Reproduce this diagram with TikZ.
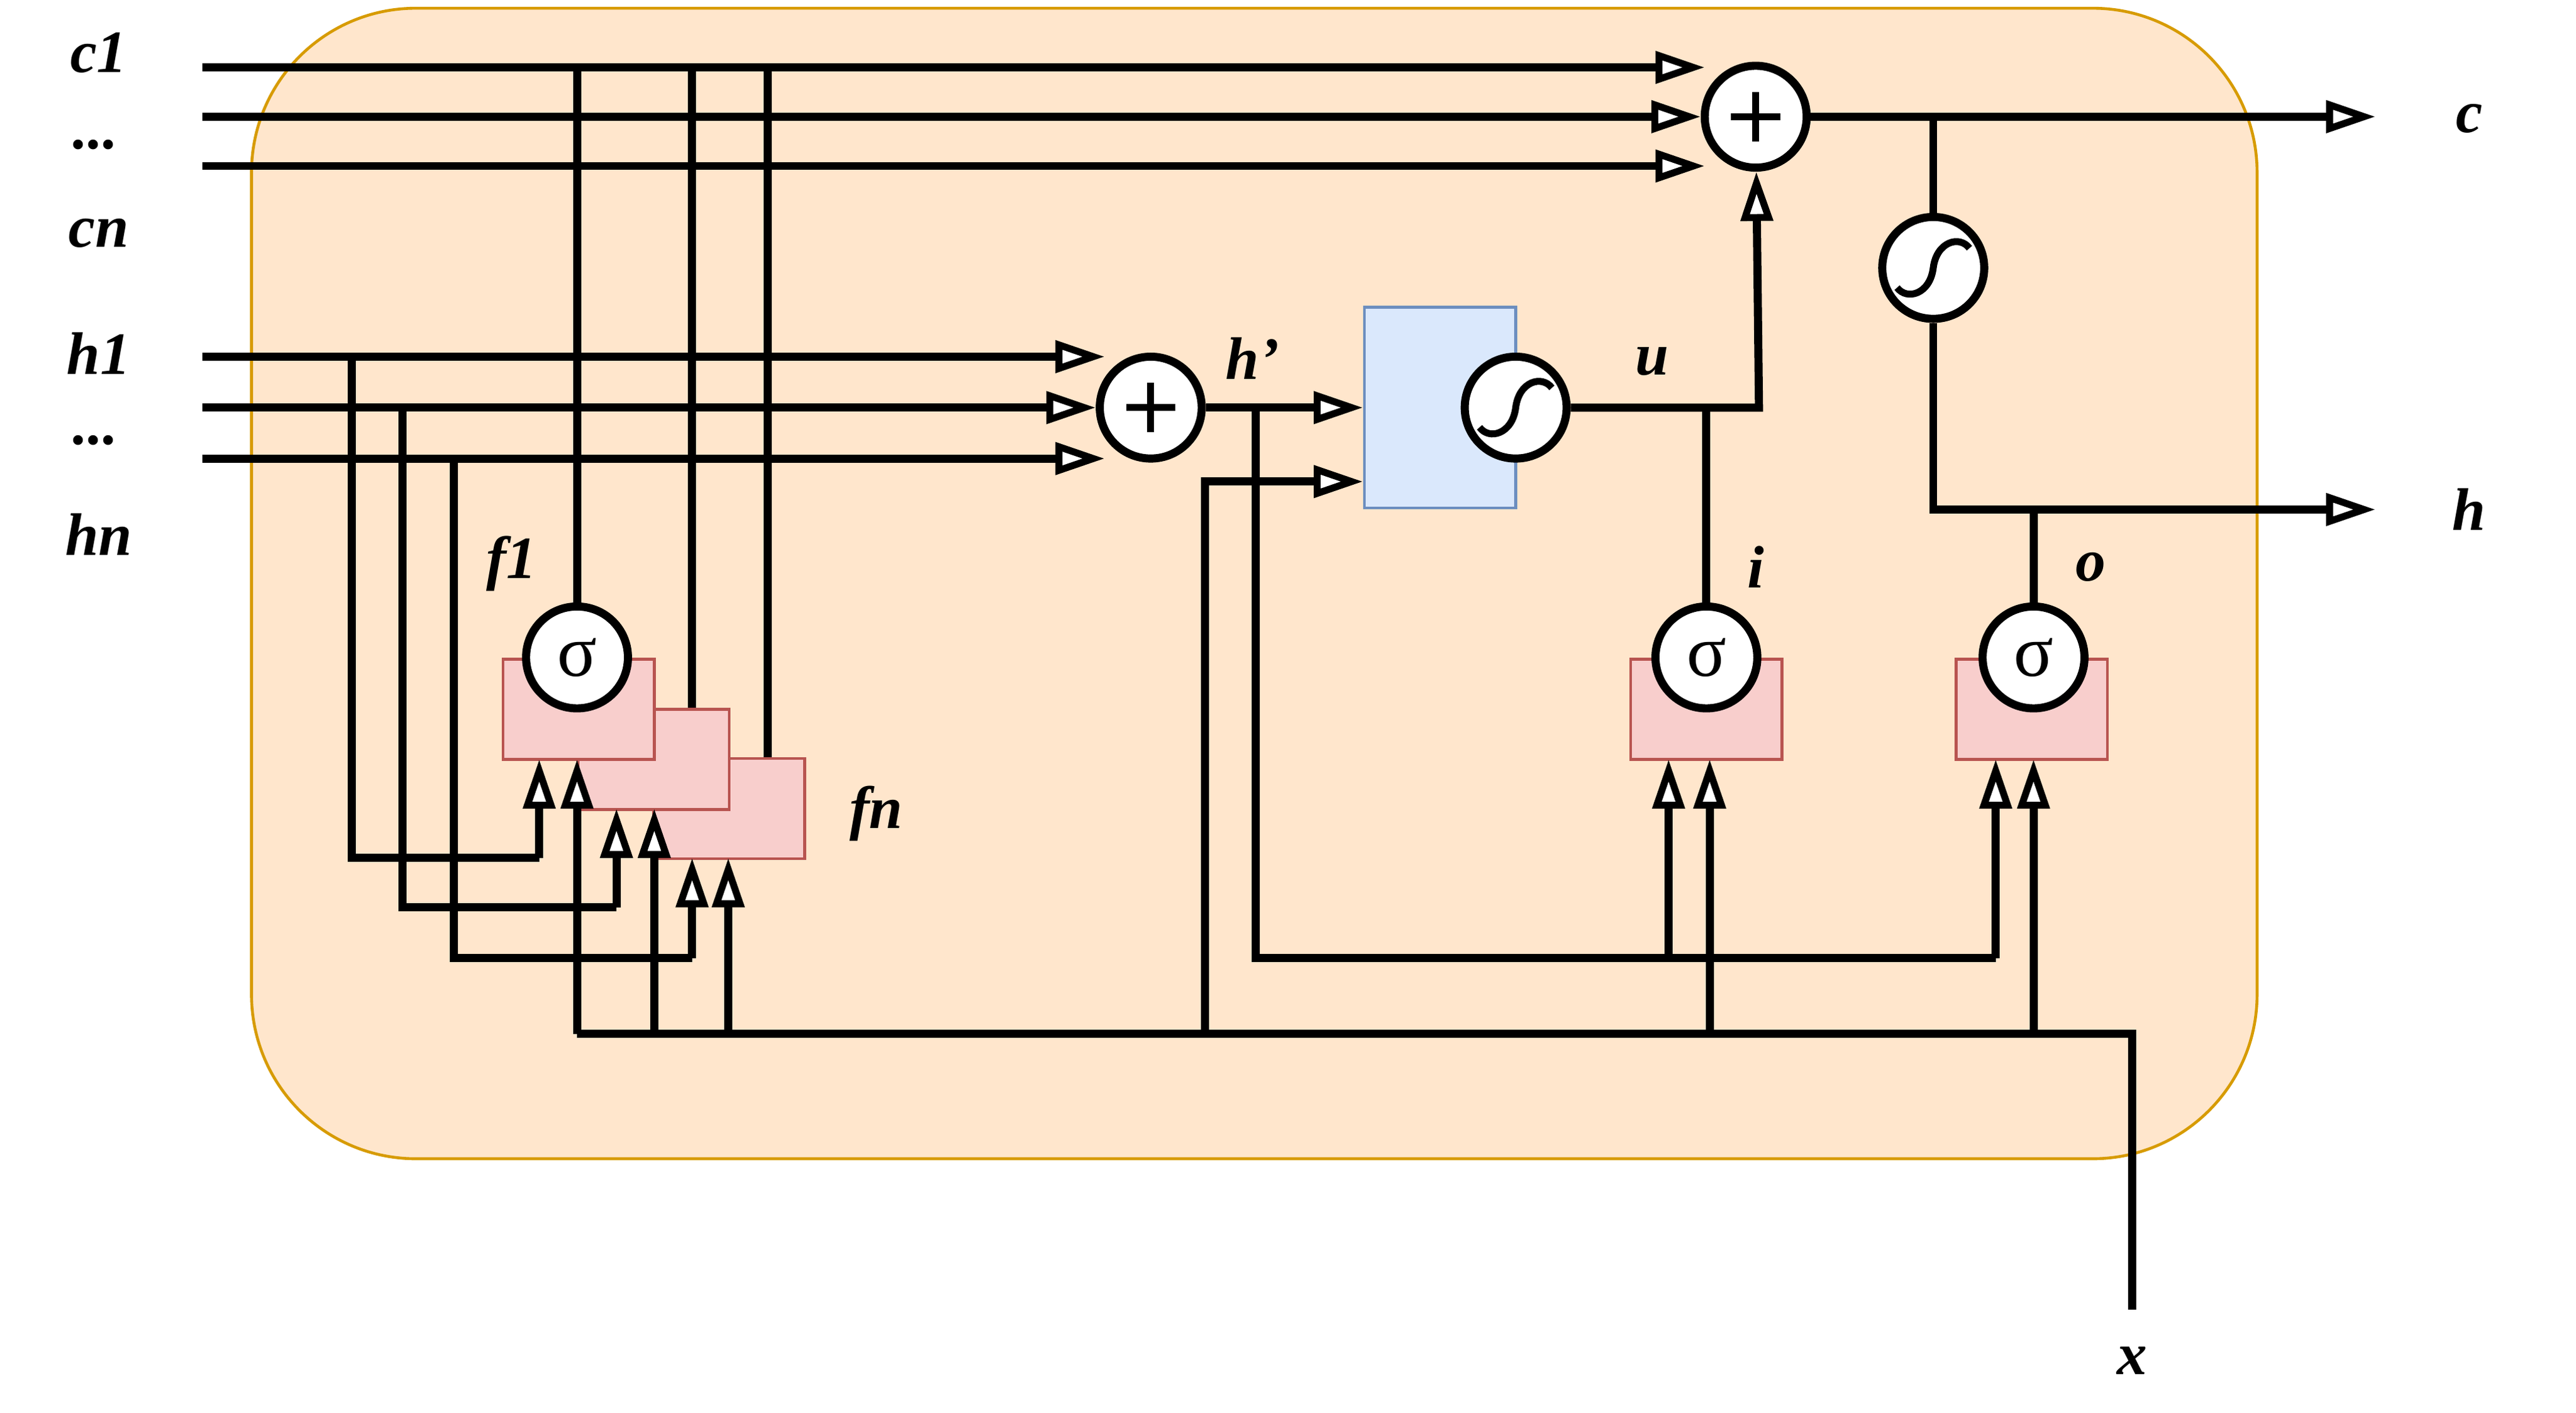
\documentclass[tikz,border=0pt]{standalone}
\usepackage{fontspec}
\setmainfont{Liberation Serif}
\usetikzlibrary{arrows.meta,calc}
\definecolor{bgf}{HTML}{FFE6CC}\definecolor{bgd}{HTML}{D79B00}
\definecolor{bluef}{HTML}{DAE8FC}\definecolor{blued}{HTML}{6C8EBF}
\definecolor{redf}{HTML}{F8CECC}\definecolor{redd}{HTML}{B85450}
\begin{document}
\begin{tikzpicture}[x=0.05cm,y=-0.05cm,
  w/.style={line width=7pt},
  ar/.style={w,-{Triangle[length=1.5cm,width=0.95cm,fill=white,line width=6pt]}},
  op/.style={circle,draw,line width=7pt,fill=white,minimum size=3.1cm,inner sep=0pt},
  gate/.style={draw=redd,fill=redf,line width=2.5pt,minimum width=4.6cm,minimum height=3.05cm,inner sep=0pt},
  lab/.style={font=\fontsize{52}{60}\selectfont\bfseries\itshape},
  sig/.style={op,font=\fontsize{64}{72}\selectfont}]
\useasboundingbox (0,0) rectangle (1567,859.7);
\draw[bgd,fill=bgf,line width=2.5pt,rounded corners=5cm] (153,5) rectangle (1373,705);
% labels
\node[lab] at (60,32) {c1};
\node[lab] at (58,88) {...};
\node[lab] at (60,142) {cn};
\node[lab] at (60,215) {h1};
\node[lab] at (58,268) {...};
\node[lab] at (60,325) {hn};
\node[lab] at (311,343) {f1};
\node[lab] at (533,495) {fn};
\node[lab] at (762,218) {h'};
\node[lab] at (1005,220) {u};
\node[lab] at (1068,345) {i};
\node[lab] at (1272,345) {o};
\node[lab] at (1502,72) {c};
\node[lab] at (1502,310) {h};
\node[lab] at (1297,828) {x};
% nodes
\node[op] (pc) at (1068,71) {};
\node[op] (ph) at (700,248) {};
\node[draw=blued,fill=bluef,line width=2.5pt,minimum width=4.6cm,minimum height=6.1cm,inner sep=0pt] (box) at (876,248) {};
\coordinate (c1) at (123,41); \coordinate (c2) at (123,71); \coordinate (c3) at (123,101);
\coordinate (h1) at (123,217); \coordinate (h2) at (123,248); \coordinate (h3) at (123,279);
\coordinate (x) at (1297,797);
\coordinate (cout) at (1445,71); \coordinate (hout) at (1445,310);
% c inputs
\draw[ar] (c1) -- (1037,41);
\draw[ar] (c2) -- (pc);
\draw[ar] (c3) -- (1037,101);
% h inputs
\draw[ar] (h1) -- (672,217);
\draw[ar] (h2) -- (ph);
\draw[ar] (h3) -- (672,279);
\draw[ar] (ph) -- (box.west |- ph);
% f wiring
\draw[w] (351,41) -- (351,400);
\draw[w] (421,41) -- (421,432);
\draw[w] (467,41) -- (467,462);
\draw[w] (214,217) -- (214,522) -- (328,522);
\draw[w] (245,248) -- (245,552) -- (375,552);
\draw[w] (276,279) -- (276,583) -- (421,583);
% x bus
\draw[w] (x) -- (1297,629) -- (351,629);
\draw[ar] (733,629) -- (733,293) -- (box.west |- 0,293);
% h' down
\draw[w] (764,248) -- (764,583) -- (1214,583);
\node[gate] (bf3) at (443.5,492) {};
\node[gate] (bf2) at (397.5,462) {};
\node[gate] (bf1) at (352,431.5) {};
\node[gate] (bi) at (1038,431.5) {};
\node[gate] (bo) at (1236,431.5) {};
\draw[ar] (328,522) -- (328,462);
\draw[ar] (351,629) -- (351,462);
\draw[ar] (375,552) -- (375,492);
\draw[ar] (398,629) -- (398,492);
\draw[ar] (421,583) -- (421,522);
\draw[ar] (443,629) -- (443,522);
\draw[ar] (1015,583) -- (1015,462);
\draw[ar] (1040,629) -- (1040,462);
\draw[ar] (1214,583) -- (1214,462);
\draw[ar] (1237,629) -- (1237,462);
% u path
\node[op] (th1) at (922,248) {};
\draw[ar] (th1) -- (1070,248) -- (pc);
\draw[w] (1038,248) -- (1038,400);
\draw[w] (1237,400) -- (1237,310);
% outputs
\draw[ar] (pc) -- (cout);
\node[op] (th2) at (1176,163) {};
\draw[w] (1176,71) -- (th2);
\draw[ar] (th2) -- (1176,310) -- (hout);
% sigma
\node[sig] (sf1) at (351,400) {σ};
\node[sig] (si) at (1038,400) {σ};
\node[sig] (so) at (1237,400) {σ};
% plus glyphs
\foreach \n in {pc,ph} {\draw[line width=6pt] ($(\n)+(-15,0)$) -- ($(\n)+(15,0)$) ($(\n)+(0,-15)$) -- ($(\n)+(0,15)$);}
% tanh glyphs
\foreach \n in {th1,th2} {\draw[line width=6pt] ($(\n)+(-22,12)$) .. controls ($(\n)+(-16,20)$) and ($(\n)+(-2,16)$) .. ($(\n)+(0,0)$) .. controls ($(\n)+(2,-16)$) and ($(\n)+(16,-20)$) .. ($(\n)+(22,-12)$);}
\end{tikzpicture}
\end{document}
